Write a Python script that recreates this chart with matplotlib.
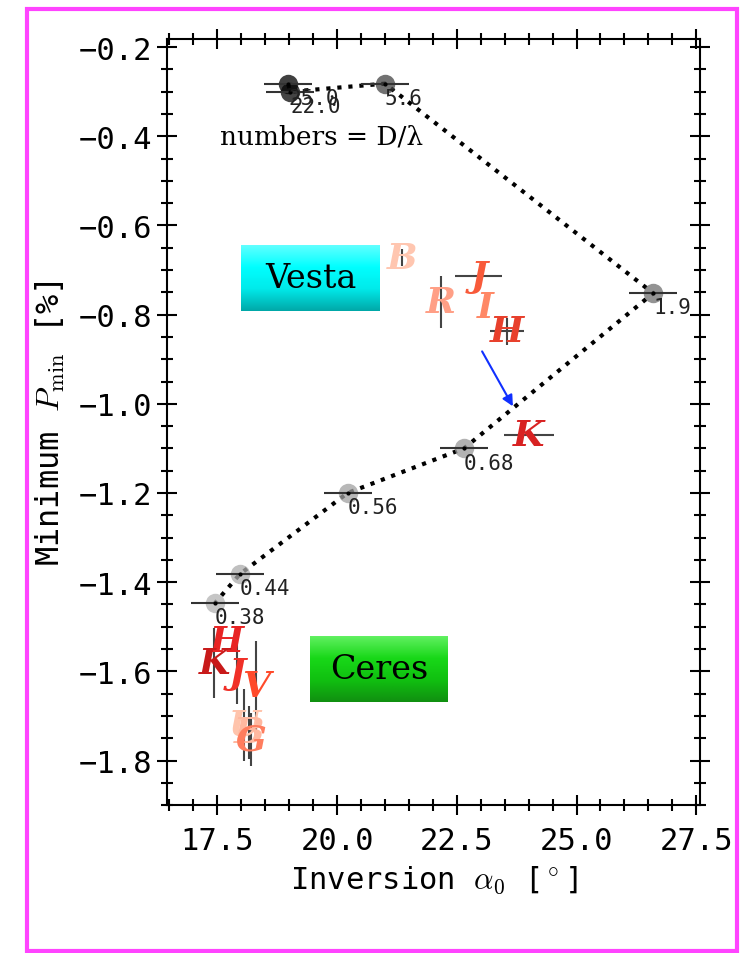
import numpy as np
import matplotlib
matplotlib.use("Agg")
import matplotlib.pyplot as plt
import matplotlib.ticker as ticker
from matplotlib.colors import LogNorm, LinearSegmentedColormap
from matplotlib.patches import Rectangle

# ── data ────────────────────────────────────────────────────────────────────
# grain-size model curve (numbers = D/lambda)
model_dl    = ["25.0", "22.0", "5.6", "1.9", "0.68", "0.56", "0.44", "0.38"]
model_dl_v  = [25.0, 22.0, 5.6, 1.9, 0.68, 0.56, 0.44, 0.38]
model_alpha = [18.98, 19.02, 21.0, 26.6, 22.65, 20.22, 17.97, 17.45]
model_pmin  = [-0.283, -0.300, -0.282, -0.752, -1.100, -1.200, -1.382, -1.447]
model_aerr  = [0.5, 0.5, 0.5, 0.5, 0.5, 0.5, 0.5, 0.5]

# Vesta, per filter
vesta_band  = ["B", "R", "J", "I", "H", "K"]
vesta_alpha = [21.36, 22.17, 22.96, 23.10, 23.55, 24.0]
vesta_pmin  = [-0.672, -0.772, -0.714, -0.783, -0.837, -1.071]
vesta_aerr  = [0.0, 0.0, 0.49, 0.0, 0.35, 0.52]
vesta_perr  = [0.02, 0.059, 0.0, 0.0, 0.03, 0.0]
vesta_color = ["#ffc6b0", "#ff9f86", "#f85a3a", "#ff8866", "#e8402c", "#d82222"]

# Ceres, per filter
ceres_band  = ["H", "K", "J", "V", "U", "B", "G"]
ceres_alpha = [17.71, 17.44, 17.91, 18.31, 18.06, 18.16, 18.20]
ceres_pmin  = [-1.532, -1.581, -1.603, -1.632, -1.720, -1.737, -1.753]
ceres_perr  = [0.0, 0.078, 0.07, 0.1, 0.08, 0.06, 0.06]
ceres_color = ["#e82424", "#c81a1a", "#f03028", "#ff4a2a", "#ffc4ac", "#ffb8a0", "#ff7d5e"]

MONO = "DejaVu Sans Mono"
SERIF = "DejaVu Serif"
plt.rcParams["mathtext.fontset"] = "cm"

fig = plt.figure(figsize=(7.44, 9.54), dpi=100)
ax = fig.add_axes([0.2245, 0.155, 0.7165, 0.803])

# ── model curve ─────────────────────────────────────────────────────────────
ax.plot(model_alpha, model_pmin, ls=":", color="k", lw=3, zorder=2)
norm = LogNorm(vmin=0.02, vmax=25)
for x, y, xe, lab, v in zip(model_alpha, model_pmin, model_aerr, model_dl, model_dl_v):
    ax.plot(x, y, "o", ms=14, color=plt.cm.Greys(norm(v)), alpha=0.75,
            mec="none", zorder=3)
    ax.errorbar(x, y, xerr=xe, fmt=".", color="k", ms=4, ecolor="#333333",
                elinewidth=1.5, zorder=4)
    ax.annotate(lab, (x, y), xytext=(0, -3), textcoords="offset points",
                ha="left", va="top", fontsize=15, family=MONO, color="#222222",
                zorder=5)

# ── filter letters ──────────────────────────────────────────────────────────
def letters(bands, xs, ys, cols, xerr=None, yerr=None):
    for i, (b, x, y, c) in enumerate(zip(bands, xs, ys, cols)):
        xe = xerr[i] if xerr else 0
        ye = yerr[i] if yerr else 0
        if xe or ye:
            ax.errorbar(x, y, xerr=xe or None, yerr=ye or None, fmt="none",
                        ecolor="#444444", elinewidth=1.5, zorder=3)
        ax.text(x, y, b, color=c, fontsize=26, family=SERIF, weight="bold",
                style="italic", ha="center", va="center", zorder=4)

letters(vesta_band, vesta_alpha, vesta_pmin, vesta_color, vesta_aerr, vesta_perr)
letters(ceres_band, ceres_alpha, ceres_pmin, ceres_color, None, ceres_perr)

ax.annotate("", xy=(23.7, -1.011), xytext=(23.0, -0.877),
            arrowprops=dict(arrowstyle="-|>", color="#1030ff", lw=1.5,
                            mutation_scale=16))

ax.text(19.68, -0.40, "numbers = D/λ", fontsize=19, family=SERIF,
        ha="center", va="center")

# ── axes styling ────────────────────────────────────────────────────────────
ax.set_xlim(16.45, 27.58)
ax.set_ylim(-1.9, -0.182)
ax.xaxis.set_major_locator(ticker.MultipleLocator(2.5))
ax.xaxis.set_minor_locator(ticker.MultipleLocator(0.5))
ax.yaxis.set_major_locator(ticker.MultipleLocator(0.2))
ax.yaxis.set_minor_locator(ticker.MultipleLocator(0.05))
ax.tick_params(which="both", direction="inout", top=True, right=True, width=1.5)
ax.tick_params(which="major", length=14, labelsize=22)
ax.tick_params(axis="x", which="major", pad=8)
ax.tick_params(axis="y", which="major", pad=4)
ax.tick_params(which="minor", length=8)
for lab in ax.get_xticklabels() + ax.get_yticklabels():
    lab.set_family(MONO)
for s in ax.spines.values():
    s.set_linewidth(1.5)

ax.set_xlabel(r"Inversion $\alpha_0$ [$^\circ$]", fontsize=22, family=MONO, labelpad=6)
ax.set_ylabel(r"Minimum $P_\mathrm{min}$ [%]", fontsize=23, family=MONO, labelpad=8)

# ── gradient label boxes ────────────────────────────────────────────────────
def grad_box(rect, cols, text):
    bax = fig.add_axes(rect)
    cmap = LinearSegmentedColormap.from_list("g", cols)
    bax.imshow(np.linspace(0, 1, 64)[:, None], aspect="auto", cmap=cmap,
               extent=(0, 1, 0, 1))
    bax.text(0.5, 0.5, text, fontsize=24, family=SERIF, ha="center", va="center",
             transform=bax.transAxes)
    bax.set_axis_off()

grad_box([241 / 744, 1 - 312 / 954, 139 / 744, 66 / 954],
         ["#60ffff", "#00ffff", "#00eaea", "#00a8a8"], "Vesta")
grad_box([310 / 744, 1 - 703 / 954, 138 / 744, 66 / 954],
         ["#60f060", "#18d818", "#10c010", "#109010"], "Ceres")

# magenta frame
fig.patches.append(Rectangle((27 / 744, 2 / 954), 710 / 744, 942 / 954,
                             transform=fig.transFigure, fill=False,
                             ec="#ff44ff", lw=3, zorder=10))

fig.savefig("out.png", dpi=100)
